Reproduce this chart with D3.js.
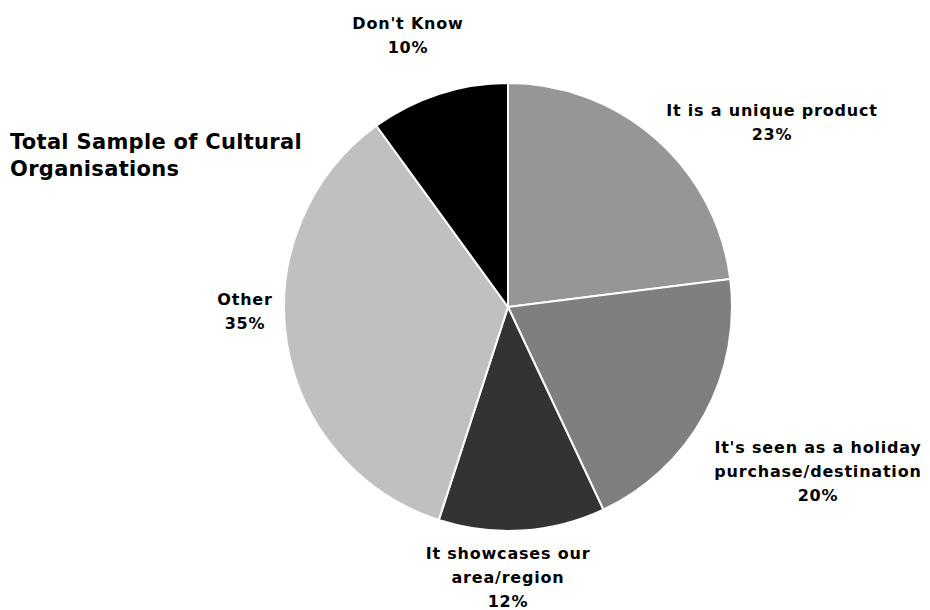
<!DOCTYPE html>
<html>
<head>
<meta charset="utf-8">
<script src="https://cdn.jsdelivr.net/npm/d3@7"></script>
<style>
  body { margin: 0; background: #fff; }
  svg text { font-family: Tahoma, "DejaVu Sans", Verdana, sans-serif; font-weight: bold; fill: #000; }
</style>
</head>
<body>
<svg id="chart" width="930" height="610"></svg>
<script>
// Reasons given, in clockwise order from twelve o'clock
const categories = [
  "It is a unique product",
  "It's seen as a holiday purchase/destination",
  "It showcases our area/region",
  "Other",
  "Don't Know"
];
const values = [23, 20, 12, 35, 10];
const labelLines = [
  ["It is a unique product"],
  ["It's seen as a holiday", "purchase/destination"],
  ["It showcases our", "area/region"],
  ["Other"],
  ["Don't Know"]
];
const sliceColors = ["#969696", "#7f7f7f", "#333333", "#c0c0c0", "#000000"];
const titleLines = ["Total Sample of Cultural", "Organisations"];

const svg = d3.select("#chart");
const cx = 508, cy = 307, r = 224;

const pie = d3.pie().sort(null).value(d => d)(values);
const arc = d3.arc().innerRadius(0).outerRadius(r);

const g = svg.append("g").attr("transform", `translate(${cx},${cy})`);
g.selectAll("path")
  .data(pie)
  .join("path")
  .attr("d", arc)
  .attr("fill", (d, i) => sliceColors[i])
  .attr("stroke", "#fff")
  .attr("stroke-width", 2)
  .attr("stroke-linejoin", "round");

// Label anchor points relative to the pie centre
const labelPos = [
  { x: 264, y: -191 },
  { x: 310, y: 146 },
  { x: 0, y: 252 },
  { x: -263, y: -2 },
  { x: -100, y: -278 }
];
const lineH = 24;

const labels = svg.append("g").attr("transform", `translate(${cx},${cy})`);
pie.forEach((d, i) => {
  const lines = labelLines[i].concat([values[i] + "%"]);
  const t = labels.append("text")
    .attr("text-anchor", "middle")
    .attr("font-size", 16)
    .attr("letter-spacing", 0.8)
    .attr("x", labelPos[i].x)
    .attr("y", labelPos[i].y);
  lines.forEach((ln, j) => {
    t.append("tspan")
      .attr("x", labelPos[i].x)
      .attr("dy", j === 0 ? 0 : lineH)
      .text(ln);
  });
});

const title = svg.append("text")
  .attr("x", 10).attr("y", 149)
  .attr("font-size", 21)
  .attr("letter-spacing", 0.3);
titleLines.forEach((ln, j) => {
  title.append("tspan").attr("x", 10).attr("dy", j === 0 ? 0 : 27).text(ln);
});
</script>
</body>
</html>
